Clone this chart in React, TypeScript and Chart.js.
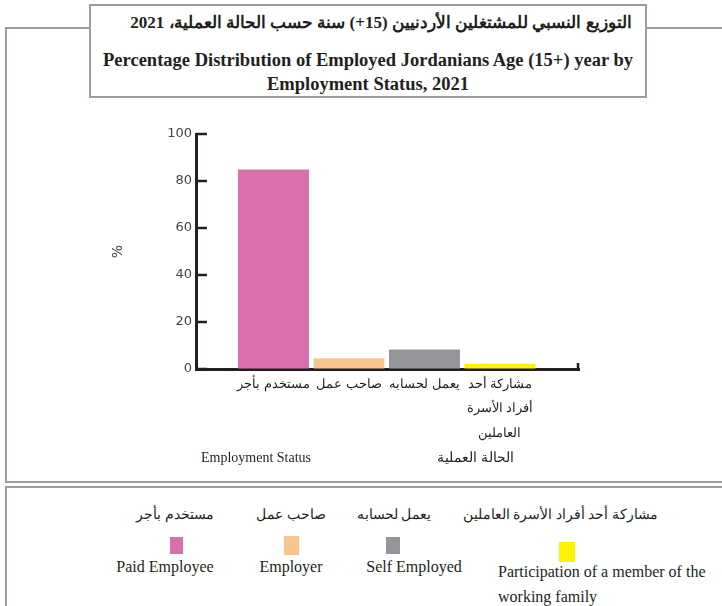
import React, { useEffect, useRef } from "react";
import { Chart, registerables } from "chart.js";

Chart.register(...registerables);

// ---- data ----
const categoriesAr: string[][] = [
  ["مستخدم بأجر"],
  ["صاحب عمل"],
  ["يعمل لحسابه"],
  ["مشاركة أحد", "أفراد الأسرة", "العاملين"],
];
const legendAr = ["مستخدم بأجر", "صاحب عمل", "يعمل لحسابه", "مشاركة أحد أفراد الأسرة العاملين"];
const legendEn = ["Paid Employee", "Employer", "Self Employed", "Participation of a member of the working family"];
const values = [84.9, 4.6, 8.3, 2.2];
const colors = ["#d970ad", "#f7c490", "#939598", "#fff200"];
const yTicks = [0, 20, 40, 60, 80, 100];
const titleAr = "التوزيع النسبي للمشتغلين الأردنيين (15+) سنة حسب الحالة العملية، 2021";
const titleEn1 = "Percentage Distribution of Employed Jordanians Age (15+) year by";
const titleEn2 = "Employment Status, 2021";
const axisTitleEn = "Employment Status";
const axisTitleAr = "الحالة العملية";
const yTitle = "%";

// ---- layout (page coordinates) ----
const legendLayout = [
  { arX: 175, swX: 170, swY: 537, swW: 13, swH: 17, enX: 165 },
  { arX: 291, swX: 284, swY: 536, swW: 15, swH: 19, enX: 291 },
  { arX: 394, swX: 386, swY: 537, swW: 14, swH: 17, enX: 414 },
  { arX: 560, swX: 559, swY: 542, swW: 16, swH: 20, enX: 0 },
];

const SERIF = "'Liberation Serif', 'Times New Roman', serif";
const FRAME = "2px solid #9a9ea2";
const INK = "#231f20";

const insideTicks = {
  id: "insideTicks",
  afterDraw(chart: any) {
    const { ctx, chartArea, scales } = chart;
    const y = scales.y;
    ctx.save();
    ctx.strokeStyle = INK;
    ctx.lineWidth = 2.5;
    yTicks.forEach((v) => {
      const py = y.getPixelForValue(v);
      ctx.beginPath();
      ctx.moveTo(chartArea.left, py);
      ctx.lineTo(chartArea.left + 11, py);
      ctx.stroke();
    });
    ctx.beginPath();
    ctx.moveTo(chartArea.right - 1, chartArea.bottom);
    ctx.lineTo(chartArea.right - 1, chartArea.bottom - 6);
    ctx.stroke();
    ctx.restore();
  },
};

function BarChart() {
  const ref = useRef<HTMLCanvasElement | null>(null);
  useEffect(() => {
    if (!ref.current) return;
    const chart = new Chart(ref.current, {
      type: "bar",
      data: {
        datasets: [
          {
            data: values.map((v, i) => ({ x: i, y: v })) as any,
            backgroundColor: colors,
            barPercentage: 0.94,
            categoryPercentage: 1,
          },
        ],
      },
      options: {
        responsive: false,
        animation: false,
        devicePixelRatio: 1,
        layout: { padding: { left: 100, right: 143, top: 34, bottom: 0 } },
        plugins: { legend: { display: false }, tooltip: { enabled: false } },
        scales: {
          x: {
            type: "linear",
            offset: false,
            min: -1.026,
            max: 4.047,
            afterBuildTicks: (s: any) => {
              s.ticks = categoriesAr.map((_, i) => ({ value: i }));
            },
            afterFit: (s: any) => {
              s.height = 111;
            },
            ticks: {
              autoSkip: false,
              maxRotation: 0,
              padding: 4,
              color: INK,
              font: { family: SERIF, size: 13, lineHeight: 1.85 },
              callback: (v: any) => categoriesAr[v] ?? "",
            },
            grid: { display: true, drawOnChartArea: false, drawTicks: false },
            border: { color: INK, width: 3 },
          },
          y: {
            min: 0,
            max: 100,
            afterBuildTicks: (s: any) => {
              s.ticks = yTicks.map((v) => ({ value: v }));
            },
            afterFit: (s: any) => {
              s.width = 96;
            },
            ticks: {
              padding: 4,
              color: "#444",
              font: { family: "'DejaVu Sans', sans-serif", size: 13 },
            },
            grid: { display: true, drawOnChartArea: false, drawTicks: false },
            border: { color: INK, width: 3 },
            title: {
              display: true,
              text: yTitle,
              color: "#444",
              font: { family: "'DejaVu Sans', sans-serif", size: 14 },
              padding: { top: 10, bottom: 0 },
            },
          },
        },
      } as any,
      plugins: [insideTicks],
    });
    return () => chart.destroy();
  }, []);
  return <canvas ref={ref} width={722} height={380} style={{ display: "block" }} />;
}

const abs = (x: number, y: number, extra: any = {}) => ({
  position: "absolute" as const,
  left: x,
  top: y,
  ...extra,
});

export default function App() {
  return (
    <div
      style={{
        position: "absolute",
        left: 0,
        top: 0,
        width: 722,
        height: 606,
        overflow: "hidden",
        background: "#fff",
        fontFamily: SERIF,
        color: INK,
      }}
    >
      {/* upper frame */}
      <div
        style={abs(5, 27, {
          width: 740,
          height: 456,
          boxSizing: "border-box",
          borderLeft: FRAME,
          borderTop: FRAME,
          borderBottom: FRAME,
        })}
      />
      {/* lower frame */}
      <div
        style={abs(5, 486, {
          width: 740,
          height: 140,
          boxSizing: "border-box",
          borderLeft: FRAME,
          borderTop: FRAME,
        })}
      />
      {/* chart */}
      <div style={abs(0, 100, { width: 722, height: 380 })}>
        <BarChart />
      </div>
      {/* title box */}
      <div
        style={abs(89, 4, {
          width: 558,
          height: 94,
          boxSizing: "border-box",
          border: FRAME,
          background: "#fff",
        })}
      >
        <div
          dir="rtl"
          style={abs(13, 2, {
            width: "100%",
            textAlign: "center",
            fontWeight: "bold",
            fontSize: 17,
            lineHeight: "30px",
            whiteSpace: "nowrap",
          })}
        >
          {titleAr}
        </div>
        <div
          style={abs(0, 42, {
            width: "100%",
            textAlign: "center",
            fontWeight: "bold",
            fontSize: 18.5,
            lineHeight: "24px",
            whiteSpace: "nowrap",
          })}
        >
          {titleEn1}
          <br />
          {titleEn2}
        </div>
      </div>
      {/* x axis titles */}
      <div style={abs(201, 448, { fontSize: 14, lineHeight: "20px", whiteSpace: "nowrap" })}>{axisTitleEn}</div>
      <div dir="rtl" style={abs(437, 448, { fontSize: 14, lineHeight: "20px", whiteSpace: "nowrap" })}>
        {axisTitleAr}
      </div>
      {/* legend */}
      {legendLayout.map((l, i) => (
        <React.Fragment key={i}>
          <div
            dir="rtl"
            style={abs(l.arX, 504, {
              transform: "translateX(-50%)",
              fontSize: 14,
              lineHeight: "22px",
              whiteSpace: "nowrap",
            })}
          >
            {legendAr[i]}
          </div>
          <div style={abs(l.swX, l.swY, { width: l.swW, height: l.swH, background: colors[i] })} />
          {i < 3 ? (
            <div
              style={abs(l.enX, 556, {
                transform: "translateX(-50%)",
                fontSize: 16,
                lineHeight: "22px",
                whiteSpace: "nowrap",
              })}
            >
              {legendEn[i]}
            </div>
          ) : (
            <div style={abs(498, 559, { width: 222, fontSize: 16, lineHeight: "25px" })}>{legendEn[i]}</div>
          )}
        </React.Fragment>
      ))}
    </div>
  );
}
